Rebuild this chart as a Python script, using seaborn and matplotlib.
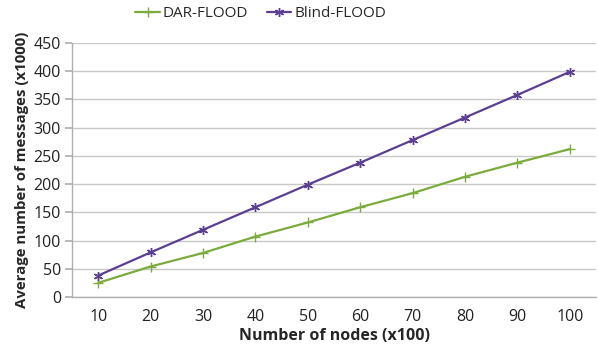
import matplotlib
matplotlib.use("Agg")
import matplotlib.pyplot as plt
import seaborn as sns
import pandas as pd

categories = ["10", "20", "30", "40", "50", "60", "70", "80", "90", "100"]
dar_flood = [25, 54, 78, 107, 132, 159, 184, 213, 238, 262]
blind_flood = [38, 79, 119, 159, 199, 238, 278, 318, 358, 399]
series_names = ["DAR-FLOOD", "Blind-FLOOD"]
y_ticks = [0, 50, 100, 150, 200, 250, 300, 350, 400, 450]

sns.set_theme(style="white")
plt.rcParams['font.family'] = ['Open Sans', 'DejaVu Sans']

df = pd.DataFrame({
    "x": categories * 2,
    "y": dar_flood + blind_flood,
    "series": [series_names[0]] * len(categories) + [series_names[1]] * len(categories),
})

fig = plt.figure(figsize=(5.98, 3.48), dpi=100)
ax = fig.add_axes([0.1204, 0.1466, 0.8763, 0.7298])

palette = {"DAR-FLOOD": "#7aab3c", "Blind-FLOOD": "#5b3f93"}
markers = {"DAR-FLOOD": "+", "Blind-FLOOD": (6, 2, 0)}
sns.lineplot(data=df, x="x", y="y", hue="series", style="series",
             palette=palette, markers=markers, dashes=False, sort=False,
             linewidth=1.6, markersize=6.5, ax=ax)
for ln in ax.lines:
    ln.set_markeredgecolor(ln.get_color())
    ln.set_markeredgewidth(1.0)

ax.set_xlim(-0.5, len(categories) - 0.5)
ax.set_ylim(0, 450)
ax.set_yticks(y_ticks)
ax.set_yticklabels([str(v) for v in y_ticks], fontsize=11.5, color="#222222")
ax.set_xticks(range(len(categories)))
ax.set_xticklabels(categories, fontsize=11.5, color="#222222")
ax.yaxis.grid(True, color="#c8c8c8", linewidth=1.0)
ax.xaxis.grid(False)
for s in ["top", "right"]:
    ax.spines[s].set_visible(False)
for s in ["left", "bottom"]:
    ax.spines[s].set_color("#b0b0b0")
    ax.spines[s].set_linewidth(1.0)
ax.tick_params(axis="y", which="both", left=True, length=5, color="#b0b0b0", pad=3)
ax.tick_params(axis="x", which="both", bottom=False, pad=3)

ax.set_xlabel("Number of nodes (x100)", fontsize=11.5, fontweight="bold", labelpad=2)
ax.set_ylabel("Average number of messages (x1000)", fontsize=10.8, fontweight="bold", labelpad=3)

handles, labels = ax.get_legend_handles_labels()
for h in handles:
    h.set_markeredgecolor(h.get_color())
    h.set_markeredgewidth(1.0)
ax.legend(handles, labels, loc="center", bbox_to_anchor=(0.36, 1.115),
          ncol=2, frameon=False, fontsize=11, handlelength=1.6,
          handletextpad=0.2, columnspacing=1.2, borderaxespad=0)

fig.savefig("out.png", dpi=100)
